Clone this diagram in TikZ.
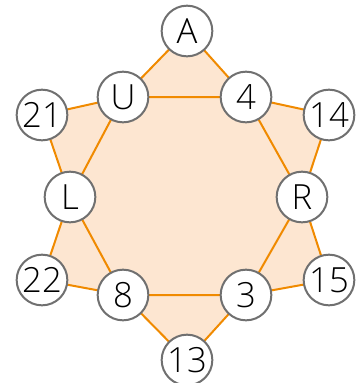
\documentclass[tikz,border=0pt]{standalone}
\usepackage{fontspec}
\setmainfont{Open Sans}[UprightFont={* Light}]
\definecolor{starfill}{HTML}{FDE6D1}
\definecolor{starline}{HTML}{F08A00}
\definecolor{ringgray}{HTML}{707070}
\tikzset{
  vert/.style={draw=ringgray, line width=1.5pt, fill=white, circle, minimum size=38pt, inner sep=0pt, font=\fontsize{26}{28}\selectfont},
  edge/.style={draw=starline, line width=1.5pt}
}
\begin{document}
\begin{tikzpicture}[x=0.75pt, y=-0.75pt]
\useasboundingbox (0,0) rectangle (359,383);
% star area
\fill[starfill] (187,31) -- (246,97) -- (329,115) -- (302,197) -- (329,280) -- (246,295)
  -- (187,360) -- (123,295) -- (42,280) -- (70,197) -- (42,115) -- (123,97) -- cycle;

\coordinate (cA) at (187,31);
\coordinate (cU) at (123,97);
\coordinate (c4) at (246,97);
\coordinate (c21) at (42,115);
\coordinate (c14) at (329,115);
\coordinate (cL) at (70,197);
\coordinate (cR) at (302,197);
\coordinate (c22) at (42,280);
\coordinate (c15) at (329,280);
\coordinate (c8) at (123,295);
\coordinate (c3) at (246,295);
\coordinate (c13) at (187,360);

% hexagon and outer triangles
\draw[edge] (cU) -- (c4) -- (cR) -- (c3) -- (c8) -- (cL) -- cycle;
\draw[edge] (cU) -- (cA) -- (c4);
\draw[edge] (c4) -- (c14) -- (cR);
\draw[edge] (cR) -- (c15) -- (c3);
\draw[edge] (c3) -- (c13) -- (c8);
\draw[edge] (c8) -- (c22) -- (cL);
\draw[edge] (cL) -- (c21) -- (cU);

\node[vert] (A) at (cA) {A};
\node[vert] (U) at (cU) {U};
\node[vert] (n4) at (c4) {4};
\node[vert] (n21) at (c21) {21};
\node[vert] (n14) at (c14) {14};
\node[vert] (L) at (cL) {L};
\node[vert] (R) at (cR) {R};
\node[vert] (n22) at (c22) {22};
\node[vert] (n15) at (c15) {15};
\node[vert] (n8) at (c8) {8};
\node[vert] (n3) at (c3) {3};
\node[vert] (n13) at (c13) {13};
\end{tikzpicture}
\end{document}
